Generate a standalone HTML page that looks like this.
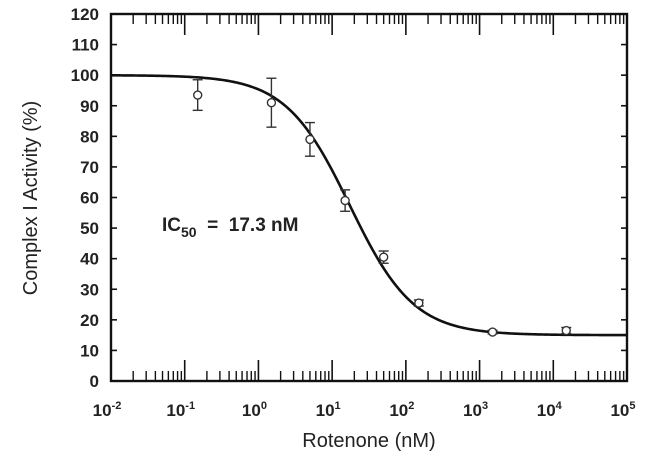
<!DOCTYPE html>
<html><head><meta charset="utf-8"><style>
html,body{margin:0;padding:0;background:#fff;width:650px;height:466px;overflow:hidden}
svg text{font-family:"Liberation Sans",sans-serif;fill:#222}
</style></head><body>
<svg id="chart" width="650" height="466" viewBox="0 0 650 466" xmlns="http://www.w3.org/2000/svg"></svg>
<script>
const xValues = [0.15, 1.5, 5, 15, 50, 150, 1500, 15000];
const yValues = [93.5, 91, 79, 59, 40.5, 25.5, 16, 16.5];
const yErrors = [5, 8, 5.5, 3.5, 2, 1, 0.6, 1];
const yTicks = [0,10,20,30,40,50,60,70,80,90,100,110,120];
const xExponents = [-2,-1,0,1,2,3,4,5];
const fitBottom = 15, fitTop = 100, fitIC50 = 17.3, fitHill = 1;

const L=111,R=627,T=14,B=381;
const xs=v=>L+(Math.log10(v)+2)/7*(R-L);
const ys=v=>B-v/120*(B-T);
const svg=document.getElementById('chart');
const NS='http://www.w3.org/2000/svg';
function mk(tag,attrs,parent){const e=document.createElementNS(NS,tag);for(const k in attrs)e.setAttribute(k,attrs[k]);(parent||svg).appendChild(e);return e;}

const frame=mk('rect',{x:L,y:T,width:R-L,height:B-T,fill:'none',stroke:'#111','stroke-width':2.4});



const yAxis=mk('g',{});


yTicks.forEach(t=>{
  const y=ys(t);
  mk('line',{x1:L,x2:L+6,y1:y,y2:y,stroke:'#111','stroke-width':1.6},yAxis);
  mk('line',{x1:R,x2:R-6,y1:y,y2:y,stroke:'#111','stroke-width':1.6},yAxis);
  const tx=mk('text',{x:L-12,y:y+6,'text-anchor':'end','font-size':17,'font-weight':'bold'},yAxis);
  tx.textContent=t;
  
  
});

const xAxis=mk('g',{});


xExponents.forEach((e,i)=>{
  const x=xs(Math.pow(10,e));
  mk('line',{x1:x,x2:x,y1:B,y2:B-21,stroke:'#111','stroke-width':1.6},xAxis);
  mk('line',{x1:x,x2:x,y1:T,y2:T+21,stroke:'#111','stroke-width':1.6},xAxis);
  if(i<xExponents.length-1){
    for(let m=2;m<=9;m++){
      const xm=xs(m*Math.pow(10,e));
      mk('line',{x1:xm,x2:xm,y1:B,y2:B-10,stroke:'#111','stroke-width':1.4},xAxis);
      mk('line',{x1:xm,x2:xm,y1:T,y2:T+10,stroke:'#111','stroke-width':1.4},xAxis);
    }
  }
  const tx=mk('text',{x:x-4,y:B+35,'text-anchor':'middle','font-size':17,'font-weight':'bold'},xAxis);
  
  
  tx.appendChild(document.createTextNode('10'));
  const sup=mk('tspan',{'font-size':11,dy:-7},tx);
  sup.textContent=e;
});

let d='';
for(let i=0;i<=300;i++){
  const lx=-2+7*i/300, v=Math.pow(10,lx);
  const y=fitBottom+(fitTop-fitBottom)/(1+Math.pow(v/fitIC50,fitHill));
  d+=(i?'L':'M')+xs(v).toFixed(2)+' '+ys(y).toFixed(2);
}
const curve=mk('path',{d:d,fill:'none',stroke:'#111','stroke-width':2.6});



xValues.forEach((xv,i)=>{
  const g=mk('g',{});
  
  
  const x=xs(xv),y=ys(yValues[i]),y1=ys(yValues[i]+yErrors[i]),y2=ys(yValues[i]-yErrors[i]);
  mk('line',{x1:x,x2:x,y1:y1,y2:y2,stroke:'#333','stroke-width':1.4},g);
  mk('line',{x1:x-5,x2:x+5,y1:y1,y2:y1,stroke:'#333','stroke-width':1.4},g);
  mk('line',{x1:x-5,x2:x+5,y1:y2,y2:y2,stroke:'#333','stroke-width':1.4},g);
  mk('circle',{cx:x,cy:y,r:4,fill:'#fff',stroke:'#333','stroke-width':1.4},g);
});

const ann=mk('text',{x:162,y:231,'font-size':19,'font-weight':'bold'});


ann.appendChild(document.createTextNode('IC'));
const sub=mk('tspan',{'font-size':14,dy:6},ann);sub.textContent='50';
const rest=mk('tspan',{dy:-6},ann);rest.textContent='\u00a0\u00a0=\u00a0\u00a017.3 nM';

const xt=mk('text',{x:369,y:447,'text-anchor':'middle','font-size':20});
xt.textContent='Rotenone (nM)';


const yt=mk('text',{x:0,y:0,'text-anchor':'middle','font-size':20,transform:'translate(37,198) rotate(-90)'});
yt.textContent='Complex I Activity (%)';


</script>
</body></html>
